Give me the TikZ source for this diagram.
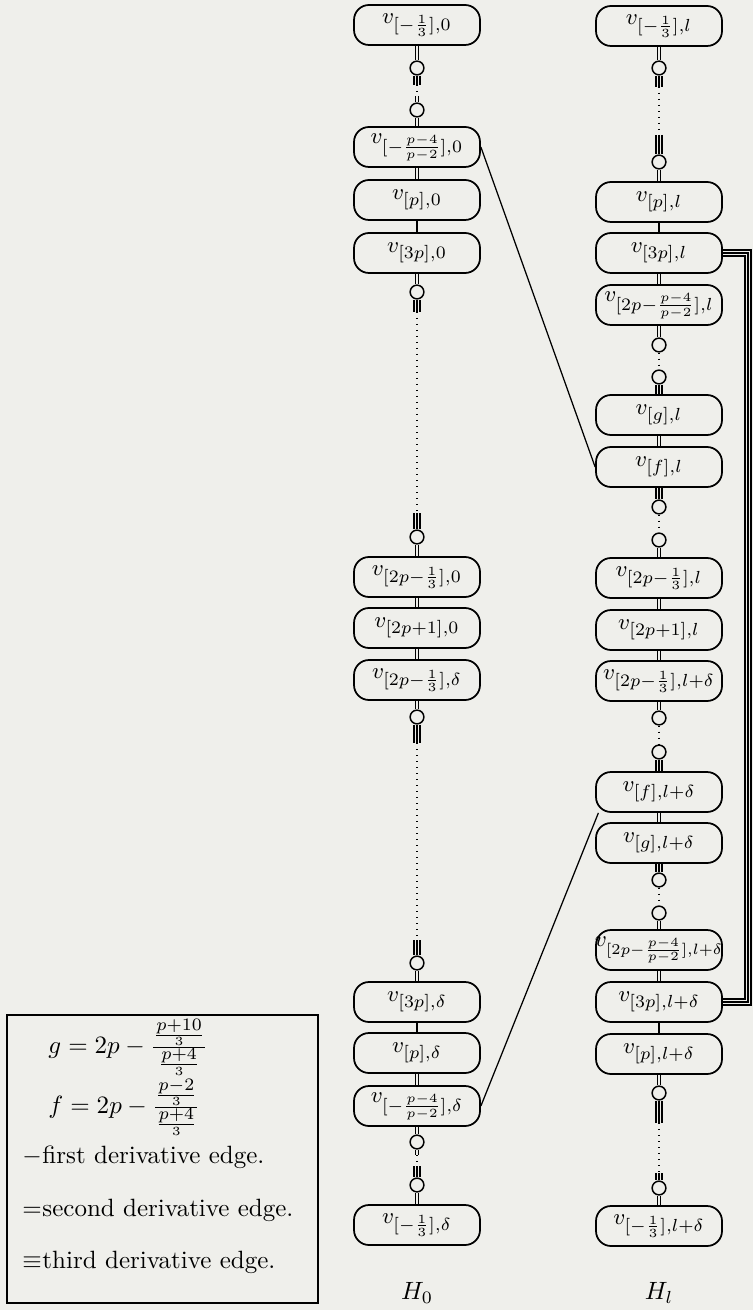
\documentclass[tikz,border=0pt]{standalone}
\definecolor{bg}{RGB}{239,239,235}
\newcommand{\vlab}[1]{\makebox[0pt]{$v_{#1}$}}
\tikzset{
  vbox/.style={draw, line width=0.7pt, rounded corners=6pt, fill=bg,
    minimum width=50.4pt, minimum height=16pt, inner sep=0pt,
    font=\fontsize{9.5}{11}\selectfont},
  knot/.style={draw, circle, line width=0.6pt, fill=bg, minimum size=5.5pt, inner sep=0pt},
  sgl/.style={line width=0.5pt},
  dbl/.style={line width=0.5pt, double=bg, double distance=0.8pt},
  tri/.style={line width=0.5pt, preaction={draw, line width=2.9pt},
    preaction={draw=bg, line width=1.9pt}},
  dots/.style={line width=0.5pt, dash pattern=on 0.5pt off 1.9pt},
  legtext/.style={anchor=west, inner sep=0pt}
}
\begin{document}
\begin{tikzpicture}[x=0.4pt,y=-0.4pt]
\fill[bg] (0,0) rectangle (753,1310);
\useasboundingbox (0,0) rectangle (753,1310);

% ---------- left column H_0 ----------
\node[vbox] (L1)  at (417,25)   {\vlab{[-\frac{1}{3}],0}};
\node[knot] (cL1) at (417,68)   {};
\node[knot] (cL2) at (417,110)  {};
\node[vbox] (L2)  at (417,147)  {\vlab{[-\frac{p-4}{p-2}],0}};
\node[vbox] (L3)  at (417,200)  {\vlab{[p],0}};
\node[vbox] (L4)  at (417,253)  {\vlab{[3p],0}};
\node[knot] (cL3) at (417,292)  {};
\node[knot] (cL4) at (417,537)  {};
\node[vbox] (L5)  at (417,577)  {\vlab{[2p-\frac{1}{3}],0}};
\node[vbox] (L6)  at (417,628)  {\vlab{[2p+1],0}};
\node[vbox] (L7)  at (417,680)  {\vlab{[2p-\frac{1}{3}],\delta}};
\node[knot] (cL5) at (417,717)  {};
\node[knot] (cL6) at (417,963)  {};
\node[vbox] (L8)  at (417,1002) {\vlab{[3p],\delta}};
\node[vbox] (L9)  at (417,1053) {\vlab{[p],\delta}};
\node[vbox] (L10) at (417,1106) {\vlab{[-\frac{p-4}{p-2}],\delta}};
\node[knot] (cL7) at (417,1142) {};
\node[knot] (cL8) at (417,1185) {};
\node[vbox] (L11) at (417,1225) {\vlab{[-\frac{1}{3}],\delta}};
\node (H0) at (417,1293) {$H_0$};

\coordinate (aL1) at (417,85);   \coordinate (bL1) at (417,96);
\coordinate (aL3) at (417,312);  \coordinate (bL3) at (417,513);
\coordinate (aL5) at (417,743);  \coordinate (bL5) at (417,940);
\coordinate (aL7) at (417,1155); \coordinate (bL7) at (417,1166);

\draw[dbl] (L1) -- (cL1);
\draw[tri] (cL1) -- (aL1); \draw[dots] (aL1) -- (bL1); \draw[dbl] (bL1) -- (cL2);
\draw[dbl] (cL2) -- (L2);
\draw[dbl] (L2) -- (L3);
\draw[sgl] (L3) -- (L4);
\draw[dbl] (L4) -- (cL3);
\draw[tri] (cL3) -- (aL3); \draw[dots] (aL3) -- (bL3); \draw[tri] (bL3) -- (cL4);
\draw[dbl] (cL4) -- (L5);
\draw[dbl] (L5) -- (L6);
\draw[dbl] (L6) -- (L7);
\draw[dbl] (L7) -- (cL5);
\draw[tri] (cL5) -- (aL5); \draw[dots] (aL5) -- (bL5); \draw[tri] (bL5) -- (cL6);
\draw[dbl] (cL6) -- (L8);
\draw[sgl] (L8) -- (L9);
\draw[dbl] (L9) -- (L10);
\draw[dbl] (L10) -- (cL7);
\draw[dbl] (cL7) -- (aL7); \draw[dots] (aL7) -- (bL7); \draw[tri] (bL7) -- (cL8);
\draw[dbl] (cL8) -- (L11);

% ---------- right column H_l ----------
\node[vbox] (R1)  at (659,26)   {\vlab{[-\frac{1}{3}],l}};
\node[knot] (cR1) at (659,68)   {};
\node[knot] (cR2) at (659,162)  {};
\node[vbox] (R2)  at (659,202)  {\vlab{[p],l}};
\node[vbox] (R3)  at (659,253)  {\vlab{[3p],l}};
\node[vbox] (R4)  at (659,305)  {\vlab{[2p-\frac{p-4}{p-2}],l}};
\node[knot] (cR3) at (659,345)  {};
\node[knot] (cR4) at (659,377)  {};
\node[vbox] (R5)  at (659,415)  {\vlab{[g],l}};
\node[vbox] (R6)  at (659,467)  {\vlab{[f],l}};
\node[knot] (cR5) at (659,507)  {};
\node[knot] (cR6) at (659,540)  {};
\node[vbox] (R7)  at (659,578)  {\vlab{[2p-\frac{1}{3}],l}};
\node[vbox] (R8)  at (659,630)  {\vlab{[2p+1],l}};
\node[vbox] (R9)  at (659,681)  {\vlab{[2p-\frac{1}{3}],l+\delta}};
\node[knot] (cR7) at (659,718)  {};
\node[knot] (cR8) at (659,752)  {};
\node[vbox] (R10) at (659,792)  {\vlab{[f],l+\delta}};
\node[vbox] (R11) at (659,843)  {\vlab{[g],l+\delta}};
\node[knot] (cR9) at (659,880)  {};
\node[knot] (cR10) at (659,913) {};
\node[vbox, font=\fontsize{8.7}{10}\selectfont] (R12) at (659,950)
  {\vlab{[2p-\frac{p-4}{p-2}],l+\delta}};
\node[vbox] (R13) at (659,1002) {\vlab{[3p],l+\delta}};
\node[vbox] (R14) at (659,1054) {\vlab{[p],l+\delta}};
\node[knot] (cR11) at (659,1093) {};
\node[knot] (cR12) at (659,1188) {};
\node[vbox] (R15) at (659,1226) {\vlab{[-\frac{1}{3}],l+\delta}};
\node (Hl) at (659,1293) {$H_l$};

\coordinate (aR1) at (659,87);    \coordinate (bR1) at (659,135);
\coordinate (aR11) at (659,1123); \coordinate (bR11) at (659,1173);

\draw[dbl] (R1) -- (cR1);
\draw[tri] (cR1) -- (aR1); \draw[dots] (aR1) -- (bR1); \draw[tri] (bR1) -- (cR2);
\draw[dbl] (cR2) -- (R2);
\draw[sgl] (R2) -- (R3);
\draw[dbl] (R3) -- (R4);
\draw[dbl] (R4) -- (cR3);
\draw[dots] (cR3) -- (cR4);
\draw[tri] (cR4) -- (R5);
\draw[dbl] (R5) -- (R6);
\draw[tri] (R6) -- (cR5);
\draw[dots] (cR5) -- (cR6);
\draw[dbl] (cR6) -- (R7);
\draw[dbl] (R7) -- (R8);
\draw[dbl] (R8) -- (R9);
\draw[dbl] (R9) -- (cR7);
\draw[dots] (cR7) -- (cR8);
\draw[tri] (cR8) -- (R10);
\draw[dbl] (R10) -- (R11);
\draw[tri] (R11) -- (cR9);
\draw[dots] (cR9) -- (cR10);
\draw[dbl] (cR10) -- (R12);
\draw[dbl] (R12) -- (R13);
\draw[sgl] (R13) -- (R14);
\draw[dbl] (R14) -- (cR11);
\draw[tri] (cR11) -- (aR11); \draw[dots] (aR11) -- (bR11); \draw[tri] (bR11) -- (cR12);
\draw[dbl] (cR12) -- (R15);

% loop on the right
\coordinate (kA) at (748,253);
\coordinate (kB) at (748,1002);
\draw[tri] (R3.east) -- (kA) -- (kB) -- (R13.east);

% first derivative edges between columns
\draw[sgl] (L2.east) -- (R6.west);
\draw[sgl] (L10.east) -- (R10.199);

% ---------- legend ----------
\draw[line width=0.7pt] (7,1015) rectangle (318,1303);
\node[legtext] (lg) at (48,1047) {$g = 2p - \frac{\frac{\scriptstyle p+10}{3}}{\frac{\scriptstyle p+4}{3}}$};
\node[legtext] (lf) at (48,1107) {$f = 2p - \frac{\frac{\scriptstyle p-2}{3}}{\frac{\scriptstyle p+4}{3}}$};
\node[legtext] (l1) at (22,1157) {\makebox[8pt][l]{$-$}first derivative edge.};
\node[legtext] (l2) at (22,1210) {\makebox[8pt][l]{$=$}second derivative edge.};
\node[legtext] (l3) at (22,1262) {\makebox[8pt][l]{$\equiv$}third derivative edge.};
\end{tikzpicture}
\end{document}
